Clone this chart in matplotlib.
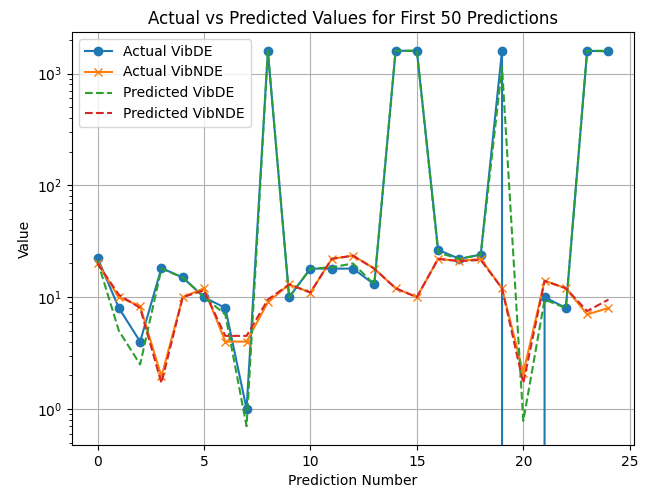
import numpy as np
import matplotlib.pyplot as plt

# valores (25 pontos)
idx = np.arange(25)

actual_vibde = [22.4, 8.0, 4.0, 18.2, 15.0, 10.0, 8.0, 1.0, 1580, 10.0,
                18.0, 18.0, 18.0, 13.0, 1600, 1600, 26.5, 22.0, 24.0, 1600,
                0.0, 10.0, 8.0, 1600, 1580]
actual_vibnde = [20.0, 10.0, 8.3, 1.95, 10.0, 12.0, 4.0, 4.0, 9.0, 13.0,
                 11.0, 22.0, 23.5, 18.0, 12.0, 10.0, 22.0, 21.0, 22.0, 12.0,
                 2.1, 14.0, 12.0, 7.0, 8.0]
pred_vibde = [21.0, 5.0, 2.5, 18.0, 15.0, 10.0, 7.0, 0.7, 1600, 10.0,
              18.0, 18.5, 20.0, 13.0, 1600, 1600, 25.0, 22.0, 24.0, 1150,
              0.78, 9.5, 8.0, 1600, 1600]
pred_vibnde = [20.0, 10.5, 8.0, 1.7, 10.0, 11.5, 4.5, 4.5, 9.5, 13.0,
               11.0, 22.0, 23.5, 18.0, 12.0, 10.0, 22.0, 21.0, 21.5, 12.0,
               1.7, 14.0, 12.0, 7.5, 9.5]

fig, ax = plt.subplots(figsize=(6.46, 4.91), dpi=100)

ax.plot(idx, actual_vibde, marker='o', label='Actual VibDE')
ax.plot(idx, actual_vibnde, marker='x', label='Actual VibNDE')
ax.plot(idx, pred_vibde, linestyle='--', label='Predicted VibDE')
ax.plot(idx, pred_vibnde, linestyle='--', label='Predicted VibNDE')

ax.set_yscale('log')
ax.set_title('Actual vs Predicted Values for First 50 Predictions')
ax.set_xlabel('Prediction Number')
ax.set_ylabel('Value')
ax.legend(loc='upper left')
ax.grid(True)

fig.subplots_adjust(left=0.1115, right=0.9814, top=0.9348, bottom=0.0937)
fig.savefig('out.png', dpi=100)
